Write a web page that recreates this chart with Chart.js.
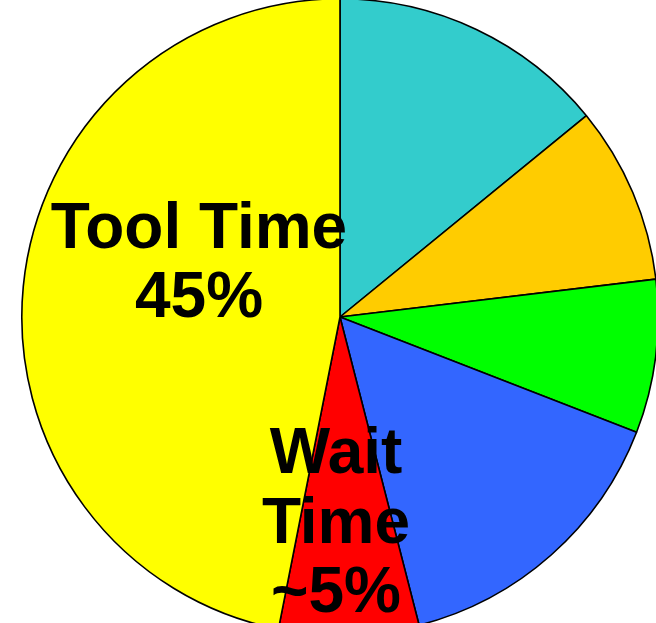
<!DOCTYPE html>
<html>
<head>
<meta charset="utf-8">
<script src="https://cdn.jsdelivr.net/npm/chart.js@4"></script>
<style>
  html, body { margin: 0; padding: 0; background: #fff; overflow: hidden; }
  #wrap { position: absolute; left: -1px; top: -2px; }
</style>
</head>
<body>
<div id="wrap"><canvas id="pastel" width="682" height="638"></canvas></div>
<script>
// Datos (en el orden del reloj, empezando arriba)
const categorias = ['Segmento 1', 'Segmento 2', 'Segmento 3', 'Segmento 4', 'Wait Time', 'Tool Time'];
const valores = [14.1, 9.0, 7.8, 15.1, 7.1, 46.9];
const colores = ['#33CCCC', '#FFCC00', '#00FF00', '#3366FF', '#FF0000', '#FFFF00'];

// Etiquetas de texto dentro del pastel
const textoTool = ['Tool Time', '45%'];
const textoWait = ['Wait', 'Time', '~5%'];

const etiquetas = {
  id: 'etiquetas',
  afterDraw(chart) {
    const arc = chart.getDatasetMeta(0).data[0];
    const cx = arc.x, cy = arc.y;
    const c = chart.ctx;
    c.save();
    c.fillStyle = '#000';
    c.font = 'bold 64px "Liberation Sans", Arial, sans-serif';
    c.textAlign = 'center';
    c.textBaseline = 'alphabetic';
    textoTool.forEach((t, i) => c.fillText(t, cx - 141, cy - 69 + i * 69));
    textoWait.forEach((t, i) => c.fillText(t, cx - 4, cy + 156 + i * 69.5));
    c.restore();
  }
};

const ctx = document.getElementById('pastel');
new Chart(ctx, {
  type: 'pie',
  data: {
    labels: categorias,
    datasets: [{
      data: valores,
      backgroundColor: colores,
      borderColor: '#000',
      borderWidth: 1.6,
      hoverOffset: 0
    }]
  },
  options: {
    responsive: false,
    animation: false,
    layout: { padding: 0 },
    plugins: {
      legend: { display: false },
      tooltip: { enabled: false }
    }
  },
  plugins: [etiquetas]
});
</script>
</body>
</html>
